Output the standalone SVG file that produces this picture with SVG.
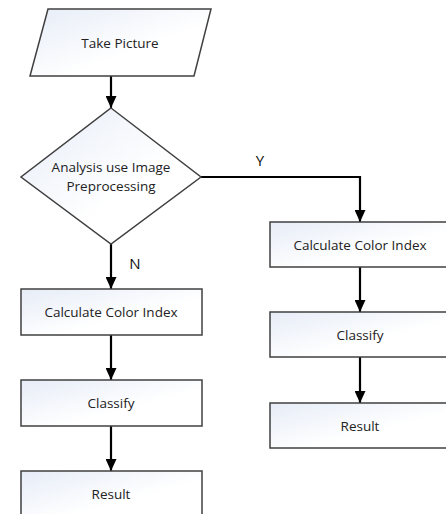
<svg xmlns="http://www.w3.org/2000/svg" width="446" height="514" viewBox="0 0 446 514">
<defs>
<linearGradient id="g" x1="0" y1="0" x2="1" y2="1">
<stop offset="0" stop-color="#e6ecf7"/>
<stop offset="0.6" stop-color="#ffffff"/>
</linearGradient>
<marker id="ah" markerWidth="12" markerHeight="11" refX="12" refY="5.5" orient="auto" markerUnits="userSpaceOnUse">
<path d="M0,0 L12,5.5 L0,11 Z" fill="#000"/>
</marker>
<style>
.n{fill:url(#g);stroke:#404040;stroke-width:1.5}
.t{font-family:"Open Sans","Liberation Sans",sans-serif;font-size:13.5px;fill:#222;text-anchor:middle}
.l{font-family:"Open Sans","Liberation Sans",sans-serif;font-size:15px;fill:#111;text-anchor:middle}
.c{fill:none;stroke:#000;stroke-width:2.2;marker-end:url(#ah)}
</style>
</defs>
<rect width="446" height="514" fill="#fff"/>
<g id="connectors">
<path class="c" d="M111,76 V108"/>
<path class="c" d="M201,177 H360 V222"/>
<path class="c" d="M111,244 V289"/>
<path class="c" d="M111,335 V380"/>
<path class="c" d="M111,426 V471"/>
<path class="c" d="M360,267 V312"/>
<path class="c" d="M360,357 V403"/>
<text class="l" x="260" y="166">Y</text>
<text class="l" x="135" y="269">N</text>
</g>
<g id="take-picture">
<path class="n" d="M48,9 H211 L194,76 H30 Z"/>
<text class="t" x="120" y="48">Take Picture</text>
</g>
<g id="decision">
<path class="n" d="M111,108 L201,177 L111,244 L21,177 Z"/>
<text class="t" x="111" y="172">Analysis use Image</text>
<text class="t" x="111" y="191">Preprocessing</text>
</g>
<g id="left-calc">
<rect class="n" x="21" y="289" width="181" height="46"/>
<text class="t" x="111" y="317">Calculate Color Index</text>
</g>
<g id="left-classify">
<rect class="n" x="21" y="380" width="181" height="46"/>
<text class="t" x="111" y="408">Classify</text>
</g>
<g id="left-result">
<rect class="n" x="21" y="471" width="181" height="48"/>
<text class="t" x="111" y="499">Result</text>
</g>
<g id="right-calc">
<rect class="n" x="270" y="222" width="181" height="45"/>
<text class="t" x="360" y="250">Calculate Color Index</text>
</g>
<g id="right-classify">
<rect class="n" x="270" y="312" width="181" height="45"/>
<text class="t" x="360" y="340">Classify</text>
</g>
<g id="right-result">
<rect class="n" x="270" y="403" width="181" height="45"/>
<text class="t" x="360" y="431">Result</text>
</g>
</svg>
